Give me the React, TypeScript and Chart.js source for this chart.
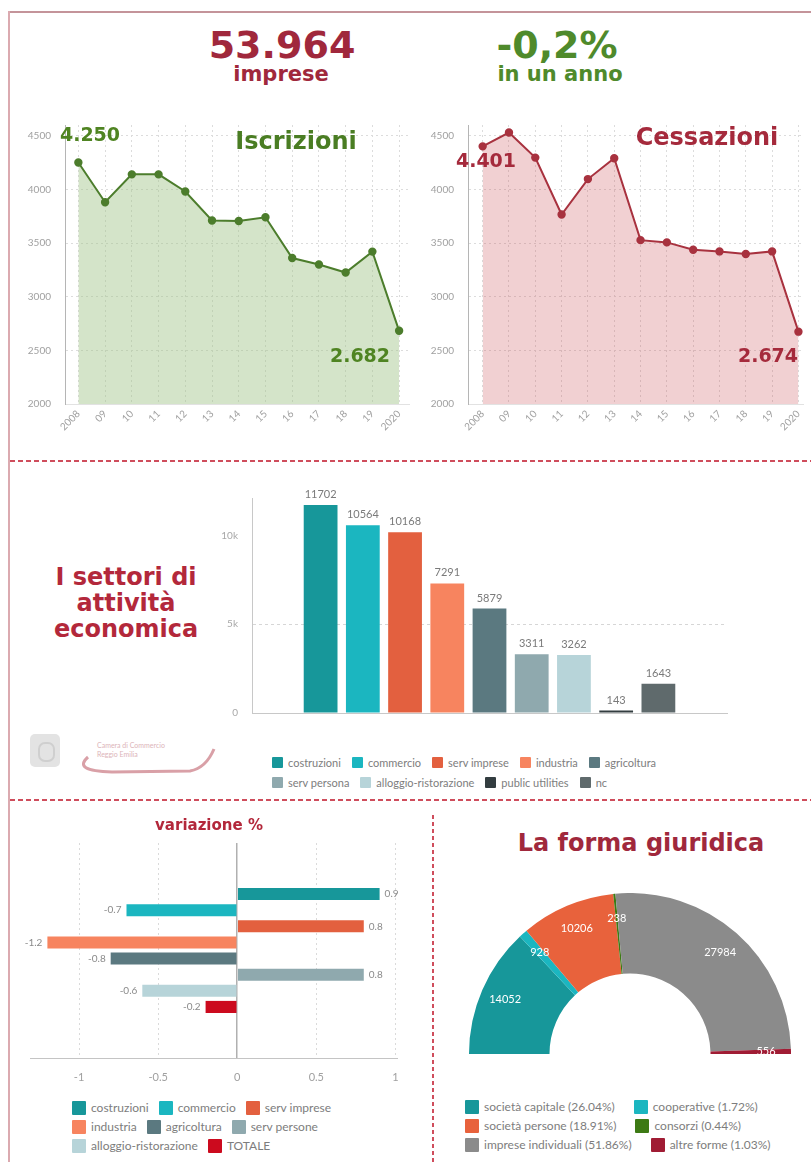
import React, { useEffect, useRef } from "react";
import { Chart, registerables } from "chart.js";
Chart.register(...registerables);

// ---------- DATA ----------
const years = ["2008", "09", "10", "11", "12", "13", "14", "15", "16", "17", "18", "19", "2020"];
const iscrizioni = [4250, 3880, 4140, 4140, 3980, 3710, 3705, 3740, 3360, 3300, 3225, 3420, 2682];
const cessazioni = [4401, 4530, 4296, 3766, 4096, 4290, 3527, 3506, 3437, 3422, 3398, 3422, 2674];
const lineTicks = [2000, 2500, 3000, 3500, 4000, 4500];

const sectors = ["costruzioni", "commercio", "serv imprese", "industria", "agricoltura", "serv persona", "alloggio-ristorazione", "public utilities", "nc"];
const sectorCounts = [11702, 10564, 10168, 7291, 5879, 3311, 3262, 143, 1643];
const sectorColors = ["#17979a", "#1bb6c0", "#e3603f", "#f7845f", "#5b7980", "#8fa9ae", "#b7d4d9", "#333d40", "#5f6a6c"];
const sectorTicks = [0, 5000, 10000];

const varLabels = ["costruzioni", "commercio", "serv imprese", "industria", "agricoltura", "serv persone", "alloggio-ristorazione", "TOTALE"];
const varValues = [0.9, -0.7, 0.8, -1.2, -0.8, 0.8, -0.6, -0.2];
const varColors = ["#17979a", "#1bb6c0", "#e3603f", "#f7845f", "#5b7980", "#8fa9ae", "#b7d4d9", "#cc0a1e"];
const varTicks = [-1, -0.5, 0, 0.5, 1];

const formeLabels = ["società capitale", "cooperative", "società persone", "consorzi", "imprese individuali", "altre forme"];
const formeValues = [14052, 928, 10206, 238, 27984, 556];
const formePct = ["26.04%", "1.72%", "18.91%", "0.44%", "51.86%", "1.03%"];
const formeColors = ["#17979a", "#1bb6c0", "#e8623c", "#3d7a14", "#8b8b8b", "#a01c34"];

// ---------- HELPERS ----------
const LATO = "Lato, 'Open Sans', sans-serif";
const HEAVY = "'DejaVu Sans', sans-serif";

function ChartBox({ config, left, top, width, height }: any) {
  const ref = useRef<HTMLCanvasElement>(null);
  useEffect(() => {
    const chart = new Chart(ref.current as HTMLCanvasElement, config);
    return () => chart.destroy();
  }, []);
  return (
    <canvas
      ref={ref}
      width={width}
      height={height}
      style={{ position: "absolute", left, top, width, height }}
    />
  );
}

function T({ x, y, size, color, children, weight = 700, family = HEAVY, align = "center", lh = 1 }: any) {
  return (
    <div
      style={{
        position: "absolute",
        left: x,
        top: y,
        transform: align === "center" ? "translate(-50%,-50%)" : "translate(0,-50%)",
        fontFamily: family,
        fontWeight: weight,
        fontSize: size,
        color,
        lineHeight: lh,
        whiteSpace: "nowrap",
        textAlign: "center",
      }}
    >
      {children}
    </div>
  );
}

function LegendRows({ left, rows, items, colors, size, box, gap, rowGap, top }: any) {
  return (
    <div style={{ position: "absolute", left, top }}>
      {rows.map((r: number[], ri: number) => (
        <div key={ri} style={{ display: "flex", alignItems: "center", height: rowGap, gap }}>
          {r.map((i) => (
            <div key={i} style={{ display: "flex", alignItems: "center" }}>
              <div style={{ width: box, height: box, background: colors[i], marginRight: 5, borderRadius: 1 }} />
              <span style={{ fontFamily: LATO, fontSize: size, color: "#7d7d7d", whiteSpace: "nowrap" }}>{items[i]}</span>
            </div>
          ))}
        </div>
      ))}
    </div>
  );
}

function lineConfig(values: number[], line: string, fill: string, xmin: number, xmax: number, yWidth: number, padRight: number) {
  return {
    type: "line",
    data: {
      datasets: [
        {
          data: values.map((v, i) => ({ x: i, y: v })),
          borderColor: line,
          backgroundColor: fill,
          fill: "start",
          borderWidth: 2,
          pointRadius: 3.2,
          pointBackgroundColor: line,
          pointBorderColor: line,
          tension: 0,
        },
      ],
    },
    options: {
      responsive: false,
      maintainAspectRatio: false,
      animation: false,
      layout: { padding: { top: 8, right: padRight, left: 0, bottom: 0 } },
      plugins: { legend: { display: false }, tooltip: { enabled: false } },
      scales: {
        x: {
          type: "linear",
          min: xmin,
          max: xmax,
          afterBuildTicks: (s: any) => {
            s.ticks = years.map((_, i) => ({ value: i }));
          },
          afterFit: (s: any) => {
            s.height = 36;
          },
          ticks: {
            autoSkip: false,
            minRotation: 45,
            maxRotation: 45,
            padding: 4,
            color: "#a0a0a0",
            font: { family: LATO, size: 10 },
            callback: (v: any) => years[v] ?? "",
          },
          grid: { color: "#dcdcdc", drawTicks: false },
          border: { display: true, color: "#e2e2e2", dash: [2, 3] },
        },
        y: {
          min: 2000,
          max: 4600,
          afterBuildTicks: (s: any) => {
            s.ticks = lineTicks.map((v) => ({ value: v }));
          },
          afterFit: (s: any) => {
            s.width = yWidth;
          },
          ticks: {
            padding: 14,
            color: "#a0a0a0",
            font: { family: LATO, size: 10 },
            callback: (v: any) => String(v),
          },
          grid: { color: "#dcdcdc", drawTicks: false },
          border: { display: true, color: "#b5b5b5", width: 1, dash: [2, 3] },
        },
      },
    },
  };
}

const barLabelPlugin = {
  id: "barLabels",
  afterDatasetsDraw(chart: any) {
    const ctx = chart.ctx;
    ctx.save();
    ctx.font = `11px ${LATO}`;
    ctx.fillStyle = "#7a7a7a";
    ctx.textAlign = "center";
    ctx.textBaseline = "bottom";
    chart.data.datasets.forEach((ds: any, i: number) => {
      const el = chart.getDatasetMeta(i).data[0];
      if (el) ctx.fillText(String(ds.data[0]), el.x, el.y - 5);
    });
    ctx.restore();
  },
};

const hbarLabelPlugin = {
  id: "hbarLabels",
  afterDatasetsDraw(chart: any) {
    const ctx = chart.ctx;
    ctx.save();
    ctx.font = `10px ${LATO}`;
    ctx.fillStyle = "#8a8a8a";
    ctx.textBaseline = "middle";
    chart.data.datasets.forEach((ds: any, i: number) => {
      const el = chart.getDatasetMeta(i).data[0];
      const v = ds.data[0];
      if (!el) return;
      if (v >= 0) {
        ctx.textAlign = "left";
        ctx.fillText(String(v), el.x + 5, el.y);
      } else {
        ctx.textAlign = "right";
        ctx.fillText(String(v), el.x - 5, el.y);
      }
    });
    ctx.restore();
  },
};

const arcLabelPlugin = {
  id: "arcLabels",
  afterDatasetsDraw(chart: any) {
    const ctx = chart.ctx;
    const meta = chart.getDatasetMeta(0);
    ctx.save();
    ctx.font = `11px ${LATO}`;
    ctx.fillStyle = "#ffffff";
    ctx.textAlign = "center";
    ctx.textBaseline = "middle";
    meta.data.forEach((el: any, i: number) => {
      const p = el.getProps(["x", "y", "startAngle", "endAngle", "innerRadius", "outerRadius"], true);
      const mid = (p.startAngle + p.endAngle) / 2;
      const r = p.innerRadius + 0.69 * (p.outerRadius - p.innerRadius);
      ctx.fillText(String(chart.data.datasets[0].data[i]), p.x + Math.cos(mid) * r, p.y + Math.sin(mid) * r);
    });
    ctx.restore();
  },
};

const iscrConfig = lineConfig(iscrizioni, "#4c7d2c", "rgba(160,196,135,0.45)", -0.5, 12.37, 55, 2);
const cessConfig = lineConfig(cessazioni, "#a8323f", "rgba(205,80,90,0.27)", -0.557, 12.186, 53, 0);

const sectorConfig = {
  type: "bar",
  data: {
    labels: [""],
    datasets: sectors.map((s, i) => ({
      label: s,
      data: [sectorCounts[i]],
      backgroundColor: sectorColors[i],
      categoryPercentage: 0.8,
      barPercentage: 0.8,
    })),
  },
  options: {
    responsive: false,
    maintainAspectRatio: false,
    animation: false,
    layout: { padding: { top: 20, right: 8, left: 0, bottom: 0 } },
    plugins: { legend: { display: false }, tooltip: { enabled: false } },
    scales: {
      x: {
        ticks: { display: false },
        grid: { display: false },
        border: { display: true, color: "#c8c8c8" },
        afterFit: (s: any) => {
          s.height = 20;
        },
      },
      y: {
        min: 0,
        max: 12100,
        afterBuildTicks: (s: any) => {
          s.ticks = sectorTicks.map((v) => ({ value: v }));
        },
        afterFit: (s: any) => {
          s.width = 32;
        },
        ticks: {
          padding: 14,
          color: "#a8a8a8",
          font: { family: LATO, size: 10 },
          callback: (v: any) => (v === 0 ? "0" : v / 1000 + "k"),
        },
        grid: {
          drawTicks: false,
          color: (c: any) => (c.tick && c.tick.value === 5000 ? "#d6d6d6" : "rgba(0,0,0,0)"),
        },
        border: { display: true, color: "#c8c8c8", dash: [3, 3] },
      },
    },
  },
  plugins: [barLabelPlugin],
};

const varConfig = {
  type: "bar",
  data: {
    labels: [""],
    datasets: varLabels.map((s, i) => ({
      label: s,
      data: [varValues[i]],
      backgroundColor: varColors[i],
      categoryPercentage: 0.6,
      barPercentage: 0.75,
    })),
  },
  options: {
    indexAxis: "y",
    responsive: false,
    maintainAspectRatio: false,
    animation: false,
    layout: { padding: { top: 8, right: 23, left: 10, bottom: 0 } },
    plugins: { legend: { display: false }, tooltip: { enabled: false } },
    scales: {
      x: {
        min: -1.31,
        max: 1.01,
        afterBuildTicks: (s: any) => {
          s.ticks = varTicks.map((v) => ({ value: v }));
        },
        afterFit: (s: any) => {
          s.height = 32;
        },
        ticks: {
          padding: 13,
          color: "#a0a0a0",
          font: { family: LATO, size: 11 },
          callback: (v: any) => String(v),
        },
        grid: {
          drawTicks: false,
          color: (c: any) => (c.tick && c.tick.value === 0 ? "#b0b0b0" : "#dadada"),
          lineWidth: (c: any) => (c.tick && c.tick.value === 0 ? 1.5 : 1),
        },
        border: {
          display: true,
          color: "#c4c4c4",
          dash: (c: any) => (c.tick && c.tick.value === 0 ? [] : [2, 3]),
        },
      },
      y: {
        display: false,
        grid: { display: false },
      },
    },
  },
  plugins: [hbarLabelPlugin],
};

const formeConfig = {
  type: "doughnut",
  data: {
    labels: formeLabels,
    datasets: [
      {
        data: formeValues,
        backgroundColor: formeColors,
        borderWidth: 0,
        hoverBorderWidth: 0,
        hoverOffset: 0,
      },
    ],
  },
  options: {
    responsive: false,
    maintainAspectRatio: false,
    animation: false,
    rotation: -90,
    circumference: 180,
    cutout: "50%",
    layout: { padding: 0 },
    plugins: { legend: { display: false }, tooltip: { enabled: false } },
  },
  plugins: [arcLabelPlugin],
};

const dashH = (top: number, left: number, width: number) => (
  <div
    style={{
      position: "absolute",
      top,
      left,
      width,
      height: 2,
      background: "repeating-linear-gradient(to right, #cf4d5c 0 5px, transparent 5px 8px)",
    }}
  />
);

export default function App() {
  useEffect(() => {
    document.body.style.margin = "0";
  }, []);
  return (
    <div style={{ position: "absolute", left: 0, top: 0, width: 811, height: 1162, background: "#fff", overflow: "hidden" }}>
      {/* frame */}
      <div style={{ position: "absolute", left: 8, top: 11, width: 803, height: 2, background: "#c4949a" }} />
      <div style={{ position: "absolute", left: 8, top: 11, width: 2, height: 1151, background: "#dbaab0" }} />
      {dashH(460, 10, 801)}
      {dashH(799, 10, 801)}
      <div
        style={{
          position: "absolute",
          left: 432,
          top: 815,
          width: 2,
          height: 347,
          background: "repeating-linear-gradient(to bottom, #cf4d5c 0 4px, transparent 4px 7px)",
        }}
      />

      {/* header */}
      <T x={282} y={45} size={38} color="#a0283c">53.964</T>
      <T x={281} y={74} size={21} color="#a0283c">imprese</T>
      <T x={557} y={45} size={38} color="#4f8a2b">-0,2%</T>
      <T x={560} y={74} size={21} color="#4f8a2b">in un anno</T>

      {/* line charts */}
      <ChartBox config={iscrConfig} left={10} top={105} width={405} height={335} />
      <ChartBox config={cessConfig} left={415} top={105} width={396} height={335} />
      <T x={90} y={134} size={19} color="#4f8422">4.250</T>
      <T x={296} y={141} size={24} color="#4a7d23">Iscrizioni</T>
      <T x={360} y={355} size={19} color="#4f8422">2.682</T>
      <T x={486} y={160} size={19} color="#a52a3c">4.401</T>
      <T x={707} y={137} size={24} color="#a52a3c">Cessazioni</T>
      <T x={768} y={355} size={19} color="#a52a3c">2.674</T>

      {/* sectors */}
      <T x={126} y={604} size={24} color="#b3283b" lh={1.08}>
        I settori di
        <br />
        attività
        <br />
        economica
      </T>
      <ChartBox config={sectorConfig} left={220} top={478} width={515} height={255} />
      <LegendRows
        left={272}
        top={752}
        rows={[[0, 1, 2, 3, 4], [5, 6, 7, 8]]}
        items={sectors}
        colors={sectorColors}
        size={11}
        box={11}
        gap={11}
        rowGap={20}
      />

      {/* logo */}
      <div style={{ position: "absolute", left: 30, top: 734, width: 30, height: 33, borderRadius: 5, background: "#e3e3e3" }}>
        <div style={{ position: "absolute", left: 8, top: 8, width: 13, height: 16, borderRadius: 7, border: "2px solid #cfcfcf" }} />
      </div>
      <div style={{ position: "absolute", left: 97, top: 741, fontFamily: LATO, fontSize: 7, lineHeight: "9px", color: "#dcb4b9" }}>
        Camera di Commercio
        <br />
        Reggio Emilia
      </div>
      <svg style={{ position: "absolute", left: 0, top: 0 }} width={260} height={800}>
        <path d="M 88 757 Q 72 771 112 772 L 190 771 Q 206 768 214 749" stroke="#d9a0a7" strokeWidth={3} fill="none" />
      </svg>

      {/* variazione */}
      <T x={209} y={825} size={15} color="#b3283b">variazione %</T>
      <ChartBox config={varConfig} left={20} top={835} width={400} height={255} />
      <LegendRows
        left={72}
        top={1098}
        rows={[[0, 1, 2], [3, 4, 5], [6, 7]]}
        items={varLabels}
        colors={varColors}
        size={12}
        box={14}
        gap={10}
        rowGap={19}
      />

      {/* forma giuridica */}
      <T x={641} y={843} size={24} color="#a0283c">La forma giuridica</T>
      <ChartBox config={formeConfig} left={469} top={893} width={322} height={161} />
      <LegendRows
        left={465}
        top={1097}
        rows={[[0, 1], [2, 3], [4, 5]]}
        items={formeLabels.map((l, i) => `${l} (${formePct[i]})`)}
        colors={formeColors}
        size={12}
        box={14}
        gap={19}
        rowGap={19}
      />
    </div>
  );
}
